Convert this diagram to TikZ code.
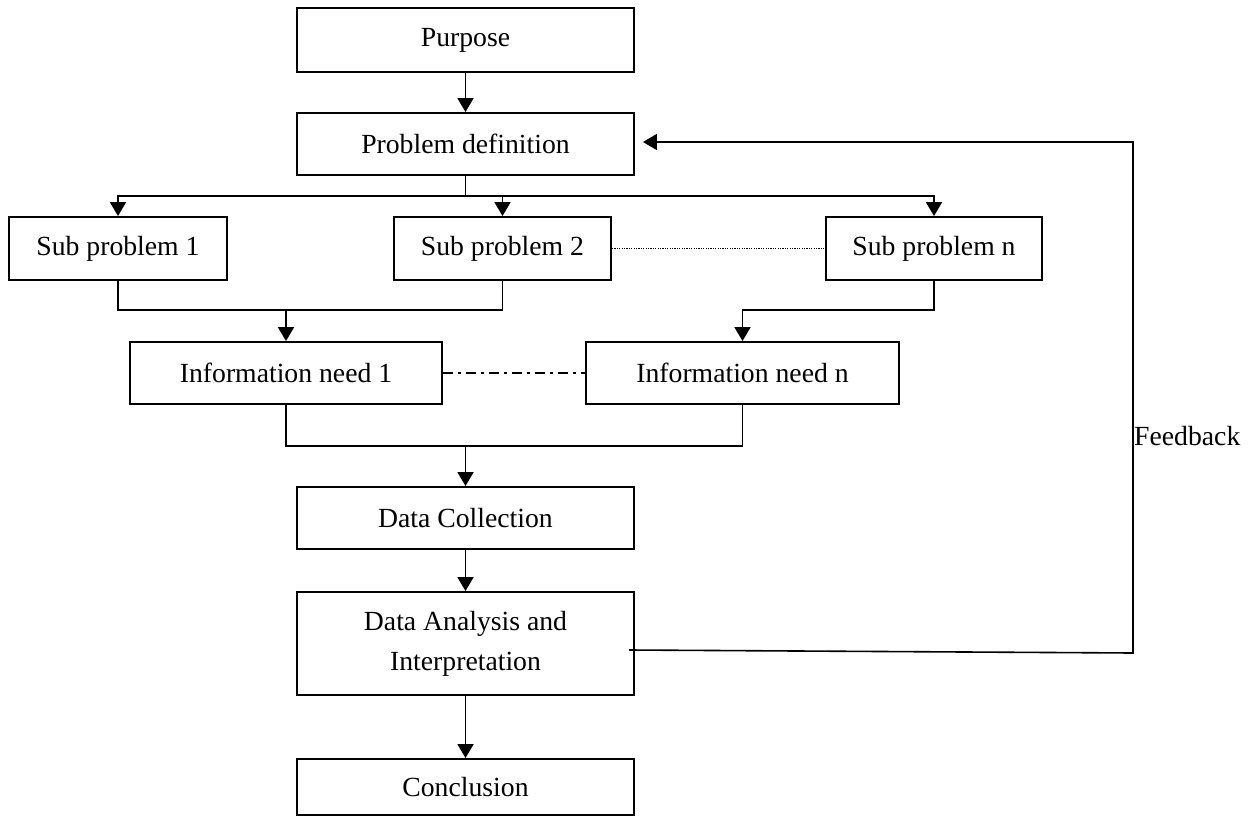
\documentclass[tikz,border=0pt]{standalone}
\usepackage{fontspec}
\setmainfont{Liberation Serif}
\usetikzlibrary{arrows.meta}
\begin{document}
\begin{tikzpicture}[x=1pt,y=-1pt,
  txt/.style={font=\fontsize{27.7}{40}\selectfont},
  box/.style={txt, draw, line width=1.9pt, rectangle, inner sep=0pt, align=center},
  link/.style={line width=1.9pt},
  arr/.style={link, -{Triangle[length=14pt,width=16pt]}},
  thindots/.style={line width=0.9pt, dash pattern=on 1.2pt off 1.2pt},
  dashdot/.style={line width=2.2pt, dash pattern=on 10pt off 5pt on 3pt off 5pt}
]
\useasboundingbox (0,0) rectangle (1256,816);

% boxes
\node[box, minimum width=337pt, minimum height=64pt] (purpose) at (465.5,40) {Purpose};
\node[box, minimum width=337pt, minimum height=62pt] (pdef) at (465.5,144) {Problem definition};
\node[box, minimum width=218pt, minimum height=63pt] (sub1) at (118,248.5) {Sub problem 1};
\node[box, minimum width=217pt, minimum height=63pt] (sub2) at (502.5,248.5) {Sub problem 2};
\node[box, minimum width=216pt, minimum height=63pt] (subn) at (934,248.5) {Sub problem n};
\node[box, minimum width=312pt, minimum height=62pt] (info1) at (286,373) {Information need 1};
\node[box, minimum width=313pt, minimum height=62pt] (infon) at (742.5,373) {Information need n};
\node[box, minimum width=337pt, minimum height=62pt] (dcoll) at (465.5,518) {Data Collection};
\node[box, minimum width=337pt, minimum height=103pt] (analysis) at (465.5,643.5) {Data Analysis and\\Interpretation};
\node[box, minimum width=337pt, minimum height=56pt] (concl) at (465.5,787) {Conclusion};

% junction points
\coordinate (br) at (465.5,196);
\coordinate (m1) at (286,310);
\coordinate (m2) at (742.5,310);
\coordinate (m3) at (465.5,446);

% main flow
\draw[arr] (purpose) -- (pdef);
\draw[link] (pdef.south) -- (br);
\draw[arr] (br) -| (sub1.north);
\draw[arr] (br) -| (sub2.north);
\draw[arr] (br) -| (subn.north);
\draw[link] (sub1.south) |- (m1) -| (sub2.south);
\draw[arr] (m1) -- (info1.north);
\draw[arr] (subn.south) |- (m2) -- (infon.north);
\draw[link] (info1.south) |- (m3) -| (infon.south);
\draw[arr] (m3) -- (dcoll.north);
\draw[arr] (dcoll) -- (analysis);
\draw[arr] (analysis) -- (concl);

% links between parallel items
\draw[thindots] (sub2.east) -- (subn.west);
\draw[dashdot] (info1.east) -- (infon.west);

% feedback loop
\coordinate (fbA) at (629,650);
\coordinate (fbB) at (1133,653);
\coordinate (fbC) at (1133,142);
\draw[arr, line width=1.6pt, shorten >=8pt] (fbA) -- (fbB) -- (fbC) -- (fbC -| pdef.east);
\node[txt, anchor=base west, inner sep=0pt] (fblabel) at (1134,445) {Feedback};
\end{tikzpicture}
\end{document}
